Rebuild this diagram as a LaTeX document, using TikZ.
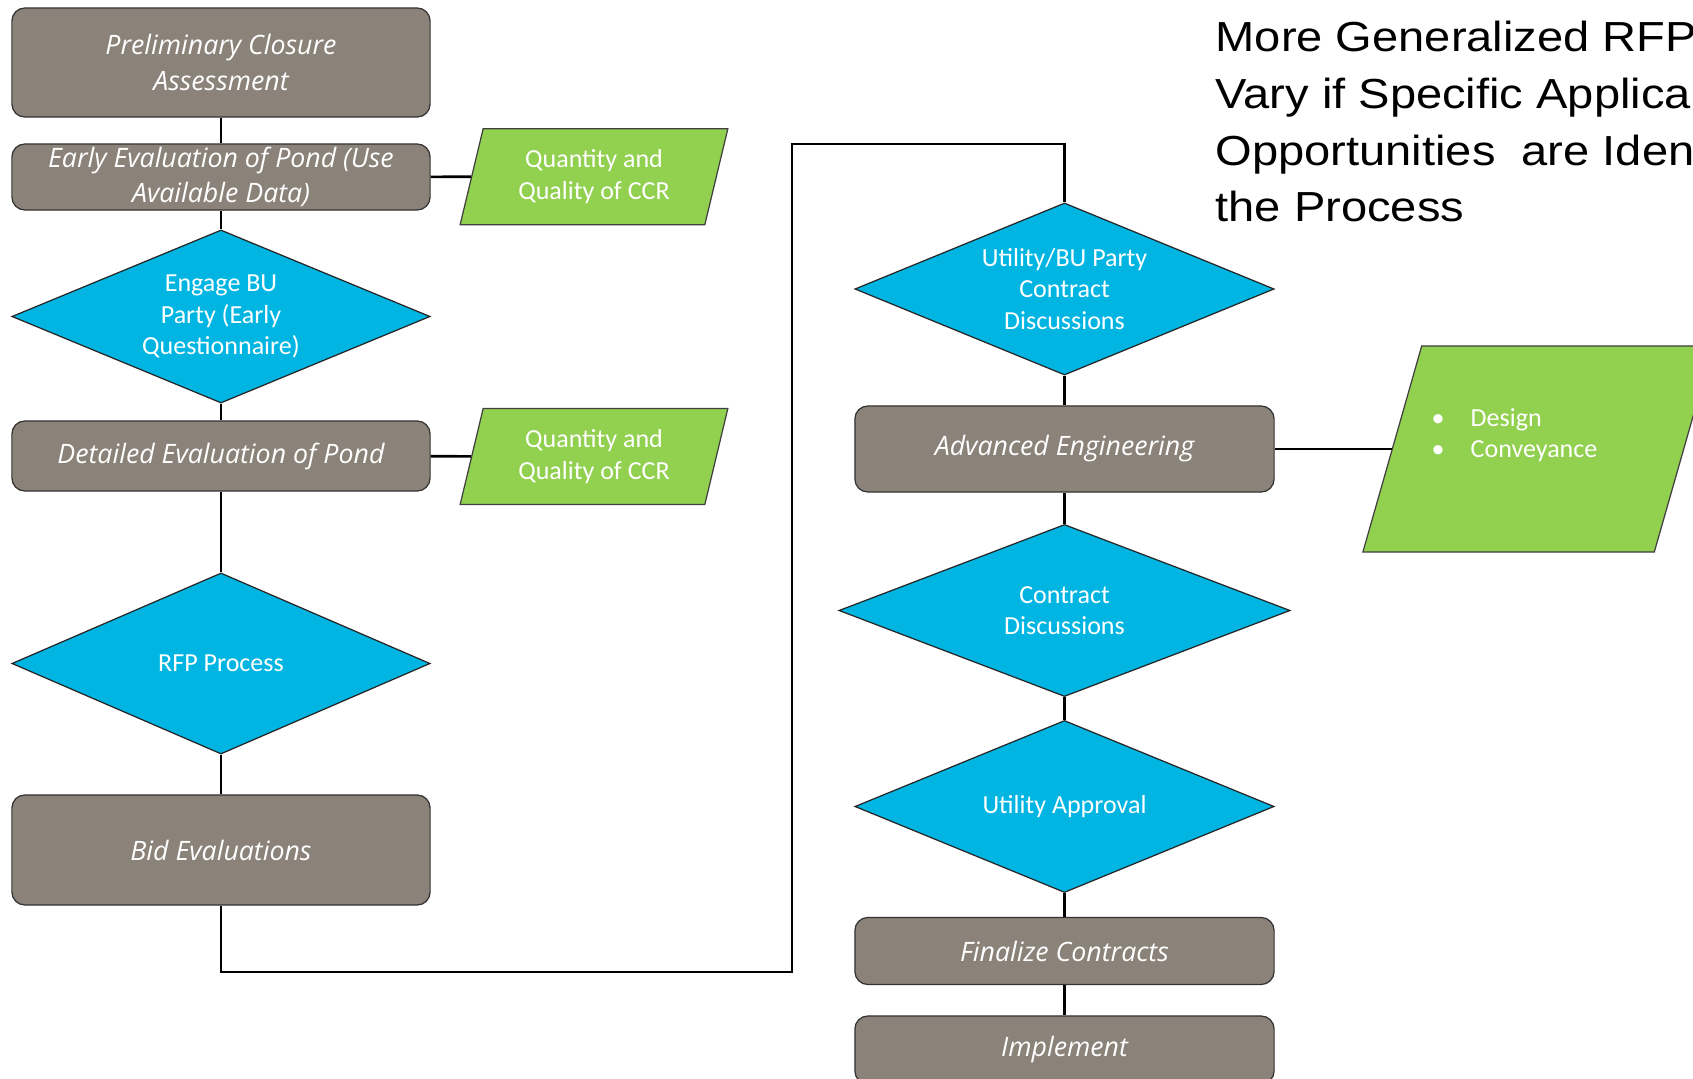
\documentclass[tikz,border=0pt]{standalone}
\usepackage{fontspec}
\usetikzlibrary{shapes.geometric}
\newfontfamily\boxfont{Open Sans}
\newfontfamily\shapefont{Carlito}
\newfontfamily\titlefont[FakeStretch=1.12]{Liberation Sans}
\definecolor{stepgray}{RGB}{139,130,121}
\definecolor{choiceblue}{RGB}{0,181,226}
\definecolor{datagreen}{RGB}{146,208,80}
\tikzset{
  procbox/.style={draw=black!80, line width=0.35pt, fill=stepgray, rounded corners=0.13cm,
    minimum width=4.18cm, inner sep=0pt, align=center, text=white,
    font=\boxfont\itshape\fontsize{7.6}{10.1}\selectfont},
  choice/.style={diamond, draw=black!85, line width=0.35pt, fill=choiceblue, aspect=2.4,
    inner sep=0pt, align=center, text=white, font=\shapefont\fontsize{7.4}{9}\selectfont},
  dataio/.style={trapezium, trapezium left angle=75.8, trapezium right angle=104.2,
    trapezium stretches=true, draw=black!75, line width=0.35pt, fill=datagreen,
    inner sep=2pt, align=center, text=white, font=\shapefont\fontsize{7.4}{9}\selectfont},
  link/.style={line width=0.75pt}
}
\begin{document}
\begin{tikzpicture}[x=0.01cm, y=-0.01cm]
    \useasboundingbox (0,0) rectangle (1693,1079);
    \clip (0,0) rectangle (1693,1079);
    \fill[white] (0,0) rectangle (1693,1079);

    % left column
    \node[procbox, minimum height=1.09cm] (prelim) at (221,62.5) {Preliminary Closure\\Assessment};
    \node[procbox, minimum height=0.66cm] (early) at (221,177) {Early Evaluation of Pond (Use\\Available Data)};
    \node[choice, minimum width=4.18cm, minimum height=1.73cm] (engage) at (221,316.5) {Engage BU\\Party (Early\\Questionnaire)};
    \node[procbox, minimum height=0.70cm] (detailed) at (221,456) {Detailed Evaluation of Pond};
    \node[choice, minimum width=4.18cm, minimum height=1.81cm] (rfp) at (221,663.5) {RFP Process};
    \node[procbox, minimum height=1.10cm] (bid) at (221,850) {Bid Evaluations};

    % data inputs
    \node[dataio, minimum width=2.69cm, minimum height=0.96cm] (ccrearly) at (594,176.7) {Quantity and\\Quality of CCR};
    \node[dataio, minimum width=2.69cm, minimum height=0.96cm] (ccrdetail) at (594,456.5) {Quantity and\\Quality of CCR};
    \node[dataio, minimum width=3.50cm, minimum height=2.06cm] (scope) at (1538,449) {};
    \node[font=\shapefont\fontsize{7.4}{9}\selectfont, text=white, align=left, inner sep=0pt, anchor=base west]
        (scopeitems) at (1431,458) {\makebox[0.39cm][l]{\textbullet}Design\\\makebox[0.39cm][l]{\textbullet}Conveyance};

    % right column
    \node[choice, minimum width=4.19cm, minimum height=1.72cm] (utilbu) at (1064.5,289) {Utility/BU Party\\Contract\\Discussions};
    \node[procbox, minimum width=4.19cm, minimum height=0.86cm] (adveng) at (1064.5,449) {Advanced Engineering};
    \node[choice, minimum width=4.51cm, minimum height=1.72cm] (contract) at (1064.5,610.5) {Contract\\Discussions};
    \node[choice, minimum width=4.19cm, minimum height=1.72cm] (approval) at (1064.5,806.5) {Utility Approval};
    \node[procbox, minimum width=4.19cm, minimum height=0.67cm] (finalize) at (1064.5,951) {Finalize Contracts};
    \node[procbox, minimum width=4.19cm, minimum height=0.68cm] (implement) at (1064.5,1050) {Implement};

    % heading
    \node[font=\titlefont\fontsize{11.95}{16.1}\selectfont, align=left, inner sep=0pt, anchor=base west]
        (heading) at (1215,221.7) {More Generalized RFP\\Vary if Specific Applica\\Opportunities\ \ are Iden\\the Process};

    % connectors
    \coordinate (jumpbot) at (792,972);
    \coordinate (jumptop) at (792,144);
    \draw[link] (prelim) -- (early);
    \draw[link] (early) -- (engage);
    \draw[link] (early) -- (ccrearly);
    \draw[link] (engage) -- (detailed);
    \draw[link] (detailed) -- (ccrdetail);
    \draw[link] (detailed) -- (rfp);
    \draw[link] (rfp) -- (bid);
    \draw[link] (bid.south) |- (jumpbot) -- (jumptop) -| (utilbu.north);
    \draw[link] (utilbu) -- (adveng);
    \draw[link] (adveng) -- (scope);
    \draw[link] (adveng) -- (contract);
    \draw[link] (contract) -- (approval);
    \draw[link] (approval) -- (finalize);
    \draw[link] (finalize) -- (implement);
\end{tikzpicture}
\end{document}
